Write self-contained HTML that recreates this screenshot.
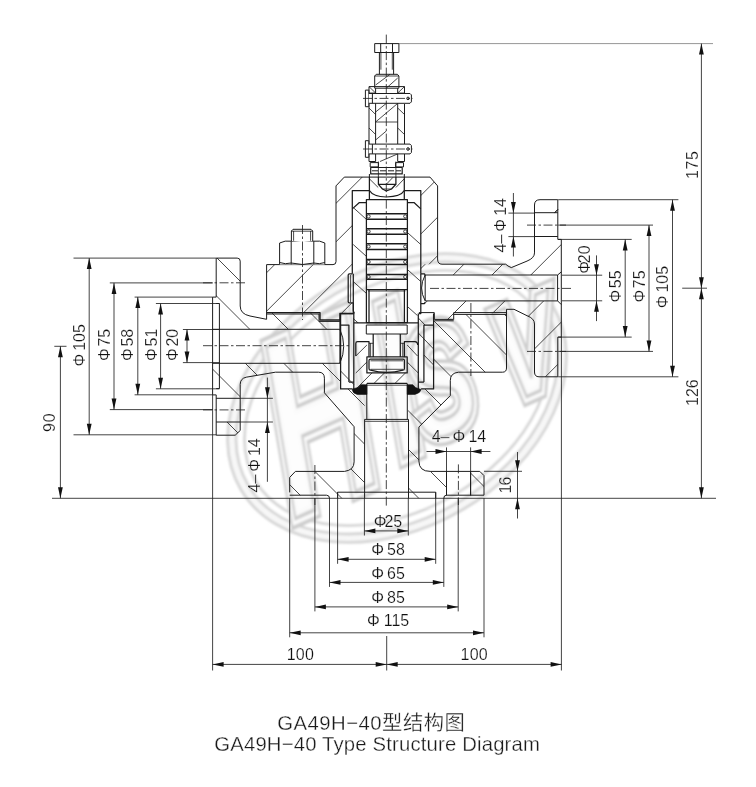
<!DOCTYPE html>
<html><head><meta charset="utf-8"><title>GA49H-40 Type Structure Diagram</title>
<style>
html,body{margin:0;padding:0;background:#fff;}
body{width:756px;height:787px;overflow:hidden;font-family:"Liberation Sans","Noto Sans CJK SC",sans-serif;}
svg{display:block;will-change:transform;filter:grayscale(1)}
.l{stroke:#1c1c1c;stroke-width:1.0;fill:none;stroke-linecap:butt;stroke-linejoin:round}
.lw{stroke:#1c1c1c;stroke-width:1.0;fill:#fff}
.li{stroke:#1c1c1c;stroke-width:1.25;fill:none;stroke-linejoin:round}
.d{stroke:#222;stroke-width:0.85;fill:none}
.g{stroke:#8a8a8a;stroke-width:0.9;fill:none}
.h{stroke:#1c1c1c;stroke-width:0.8;fill:none}
.c{stroke:#222;stroke-width:0.85;fill:none;stroke-dasharray:9 2.5 2.5 2.5}
.ah{fill:#111;stroke:none}
.blk{fill:#111;stroke:#111;stroke-width:0.6}
.t{font-family:"Liberation Sans","Noto Sans CJK SC",sans-serif;fill:#111;stroke:#fff;stroke-width:0.2}
.cap{font-family:"Liberation Sans","Noto Sans CJK SC",sans-serif;fill:#1a1a1a;stroke:#fff;stroke-width:0.3}
.wm{stroke:#d6d6d6;stroke-width:2.8;fill:none}
.wmt{font-family:"Liberation Sans",sans-serif;font-weight:bold;font-style:italic;fill:none;stroke:#d4d4d4;stroke-width:1.6}
</style></head>
<body>
<svg width="756" height="787" viewBox="0 0 756 787">
<rect x="0" y="0" width="756" height="787" fill="#fff"/>
<filter id="wb" x="-5%" y="-5%" width="110%" height="110%"><feGaussianBlur stdDeviation="0.9"/></filter>
<g id="watermark" filter="url(#wb)">
<g transform="translate(397 398) rotate(-30.3)">
<ellipse class="wm" cx="0" cy="0" rx="181" ry="129.5" style="fill:#f7f7f7"/>
<ellipse class="wm" cx="0" cy="0" rx="172.5" ry="121" style="fill:#fff"/>
<ellipse class="wm" cx="0" cy="0" rx="164" ry="112.5"/>
</g>
<g transform="translate(318 416) rotate(-24) skewX(-8) scale(0.6 1)">
<text class="wmt" vector-effect="non-scaling-stroke" font-size="245" text-anchor="middle" x="0" y="84.3" style="stroke:#cecece;stroke-width:16;fill:none">H</text>
<text class="wmt" vector-effect="non-scaling-stroke" font-size="245" text-anchor="middle" x="0" y="84.3" style="stroke:#fafafa;stroke-width:9.6;fill:#fdfdfd">H</text>
<text class="wmt" vector-effect="non-scaling-stroke" font-size="245" text-anchor="middle" x="0" y="84.3" style="stroke:#cecece;stroke-width:3;fill:none">H</text>
</g>
<g transform="translate(397 380) rotate(-24) skewX(-8) scale(0.6 1)">
<text class="wmt" vector-effect="non-scaling-stroke" font-size="215" text-anchor="middle" x="0" y="74.0" style="stroke:#cecece;stroke-width:16;fill:none">I</text>
<text class="wmt" vector-effect="non-scaling-stroke" font-size="215" text-anchor="middle" x="0" y="74.0" style="stroke:#fafafa;stroke-width:9.6;fill:#fdfdfd">I</text>
<text class="wmt" vector-effect="non-scaling-stroke" font-size="215" text-anchor="middle" x="0" y="74.0" style="stroke:#cecece;stroke-width:3;fill:none">I</text>
</g>
<g transform="translate(440 381) rotate(-24) skewX(-8) scale(0.66 1)">
<text class="wmt" vector-effect="non-scaling-stroke" font-size="150" text-anchor="middle" x="0" y="51.6" style="stroke:#cecece;stroke-width:16;fill:none">S</text>
<text class="wmt" vector-effect="non-scaling-stroke" font-size="150" text-anchor="middle" x="0" y="51.6" style="stroke:#fafafa;stroke-width:9.6;fill:#fdfdfd">S</text>
<text class="wmt" vector-effect="non-scaling-stroke" font-size="150" text-anchor="middle" x="0" y="51.6" style="stroke:#cecece;stroke-width:3;fill:none">S</text>
</g>
<g transform="translate(526 348) rotate(-24) skewX(-8) scale(0.72 1)">
<text class="wmt" vector-effect="non-scaling-stroke" font-size="130" text-anchor="middle" x="0" y="44.7" style="stroke:#cecece;stroke-width:16;fill:none">V</text>
<text class="wmt" vector-effect="non-scaling-stroke" font-size="130" text-anchor="middle" x="0" y="44.7" style="stroke:#fafafa;stroke-width:9.6;fill:#fdfdfd">V</text>
<text class="wmt" vector-effect="non-scaling-stroke" font-size="130" text-anchor="middle" x="0" y="44.7" style="stroke:#cecece;stroke-width:3;fill:none">V</text>
</g>
</g>
<g id="dims">
<line class="d" x1="73.5" y1="258.1" x2="216.2" y2="258.1" />
<line class="d" x1="73.5" y1="434.8" x2="216.2" y2="434.8" />
<line class="d" x1="89.2" y1="258.1" x2="89.2" y2="434.8" />
<polygon class="ah" points="89.2,258.1 86.8,269.1 91.6,269.1"/>
<polygon class="ah" points="89.2,434.8 86.8,423.8 91.6,423.8"/>
<text class="t" font-size="16" letter-spacing="0.00" transform="translate(79.4 345.2) rotate(-90)" x="-21.30" y="5.50">Φ<tspan dx="2.90">105</tspan></text>
<line class="d" x1="109.8" y1="282.9" x2="213.0" y2="282.9" />
<line class="d" x1="109.8" y1="409.6" x2="213.0" y2="409.6" />
<line class="d" x1="114.0" y1="282.9" x2="114.0" y2="409.6" />
<polygon class="ah" points="114.0,282.9 111.6,293.9 116.4,293.9"/>
<polygon class="ah" points="114.0,409.6 111.6,398.6 116.4,398.6"/>
<text class="t" font-size="16" letter-spacing="0.00" transform="translate(104.3 344.7) rotate(-90)" x="-16.20" y="5.50">Φ<tspan dx="1.60">75</tspan></text>
<line class="d" x1="134.6" y1="297.1" x2="212.6" y2="297.1" />
<line class="d" x1="134.6" y1="394.8" x2="212.6" y2="394.8" />
<line class="d" x1="137.8" y1="297.1" x2="137.8" y2="394.8" />
<polygon class="ah" points="137.8,297.1 135.4,308.1 140.2,308.1"/>
<polygon class="ah" points="137.8,394.8 135.4,383.8 140.2,383.8"/>
<text class="t" font-size="16" letter-spacing="0.00" transform="translate(127.3 344.7) rotate(-90)" x="-16.20" y="5.50">Φ<tspan dx="1.60">58</tspan></text>
<line class="d" x1="155.9" y1="303.5" x2="219.4" y2="303.5" />
<line class="d" x1="155.9" y1="388.8" x2="219.4" y2="388.8" />
<line class="d" x1="160.6" y1="303.5" x2="160.6" y2="388.8" />
<polygon class="ah" points="160.6,303.5 158.2,314.5 163.0,314.5"/>
<polygon class="ah" points="160.6,388.8 158.2,377.8 163.0,377.8"/>
<text class="t" font-size="16" letter-spacing="0.00" transform="translate(151.4 344.7) rotate(-90)" x="-16.20" y="5.50">Φ<tspan dx="1.70">51</tspan></text>
<line class="d" x1="182.9" y1="329.5" x2="219.4" y2="329.5" />
<line class="d" x1="182.9" y1="362.6" x2="219.4" y2="362.6" />
<line class="d" x1="187.0" y1="329.5" x2="187.0" y2="362.6" />
<polygon class="ah" points="187.0,329.5 184.6,340.5 189.4,340.5"/>
<polygon class="ah" points="187.0,362.6 184.6,351.6 189.4,351.6"/>
<text class="t" font-size="16" letter-spacing="0.00" transform="translate(172.8 344.7) rotate(-90)" x="-16.20" y="5.50">Φ<tspan dx="1.60">20</tspan></text>
<line class="d" x1="54.3" y1="346.3" x2="66.5" y2="346.3" />
<line class="d" x1="60.4" y1="346.3" x2="60.4" y2="498.3" />
<polygon class="ah" points="60.4,346.3 58.0,357.3 62.8,357.3"/>
<polygon class="ah" points="60.4,498.3 58.0,487.3 62.8,487.3"/>
<text class="t" font-size="16" letter-spacing="0.80" transform="translate(49.3 422.6) rotate(-90)" x="-9.40" y="5.50">90</text>
<line class="d" x1="52.0" y1="498.3" x2="716.0" y2="498.3" />
<line class="d" x1="240.2" y1="398.3" x2="272.9" y2="398.3" />
<line class="d" x1="240.2" y1="422.0" x2="272.9" y2="422.0" />
<line class="d" x1="267.4" y1="377.6" x2="267.4" y2="481.8" />
<polygon class="ah" points="267.4,398.3 265.0,387.3 269.8,387.3"/>
<polygon class="ah" points="267.4,422.0 265.0,433.0 269.8,433.0"/>
<text class="t" font-size="16" letter-spacing="0.00" transform="translate(254.6 465.4) rotate(-90)" x="-27.05" y="5.50">4–<tspan dx="2.90">Φ</tspan><tspan dx="2.90">14</tspan></text>
<line class="d" x1="558.2" y1="199.7" x2="678.4" y2="199.7" />
<line class="d" x1="558.2" y1="376.8" x2="678.4" y2="376.8" />
<line class="d" x1="672.5" y1="199.7" x2="672.5" y2="376.8" />
<polygon class="ah" points="672.5,199.7 670.1,210.7 674.9,210.7"/>
<polygon class="ah" points="672.5,376.8 670.1,365.8 674.9,365.8"/>
<text class="t" font-size="16" letter-spacing="0.00" transform="translate(662.2 286.9) rotate(-90)" x="-21.25" y="5.50">Φ<tspan dx="2.80">105</tspan></text>
<line class="d" x1="558.2" y1="225.1" x2="653.0" y2="225.1" />
<line class="d" x1="558.2" y1="351.4" x2="653.0" y2="351.4" />
<line class="d" x1="649.0" y1="225.1" x2="649.0" y2="351.4" />
<polygon class="ah" points="649.0,225.1 646.6,236.1 651.4,236.1"/>
<polygon class="ah" points="649.0,351.4 646.6,340.4 651.4,340.4"/>
<text class="t" font-size="16" letter-spacing="0.00" transform="translate(639.4 286.4) rotate(-90)" x="-16.20" y="5.50">Φ<tspan dx="1.60">75</tspan></text>
<line class="d" x1="558.2" y1="239.4" x2="631.7" y2="239.4" />
<line class="d" x1="558.2" y1="337.1" x2="631.7" y2="337.1" />
<line class="d" x1="625.2" y1="239.4" x2="625.2" y2="337.1" />
<polygon class="ah" points="625.2,239.4 622.8,250.4 627.6,250.4"/>
<polygon class="ah" points="625.2,337.1 622.8,326.1 627.6,326.1"/>
<text class="t" font-size="16" letter-spacing="0.00" transform="translate(615.9 286.4) rotate(-90)" x="-16.20" y="5.50">Φ<tspan dx="1.60">55</tspan></text>
<line class="d" x1="561.9" y1="275.2" x2="602.2" y2="275.2" />
<line class="d" x1="561.9" y1="300.8" x2="602.2" y2="300.8" />
<line class="d" x1="596.5" y1="255.4" x2="596.5" y2="321.1" />
<polygon class="ah" points="596.5,275.2 594.1,264.2 598.9,264.2"/>
<polygon class="ah" points="596.5,300.8 594.1,311.8 598.9,311.8"/>
<text class="t" font-size="16" letter-spacing="0.00" transform="translate(584.8 259.5) rotate(-90)" x="-14.35" y="5.50">Φ<tspan dx="-2.10">20</tspan></text>
<line class="d" x1="508.4" y1="213.1" x2="534.6" y2="213.1" />
<line class="d" x1="508.4" y1="236.6" x2="534.6" y2="236.6" />
<line class="d" x1="513.4" y1="193.0" x2="513.4" y2="256.5" />
<polygon class="ah" points="513.4,213.1 511.0,202.1 515.8,202.1"/>
<polygon class="ah" points="513.4,236.6 511.0,247.6 515.8,247.6"/>
<text class="t" font-size="16" letter-spacing="0.00" transform="translate(500.6 225.3) rotate(-90)" x="-27.20" y="5.50">4–<tspan dx="3.05">Φ</tspan><tspan dx="3.05">14</tspan></text>
<line class="g" x1="399.0" y1="43.6" x2="713.0" y2="43.6" />
<line class="d" x1="701.4" y1="43.6" x2="701.4" y2="498.3" />
<line class="d" x1="682.2" y1="288.2" x2="707.0" y2="288.2" />
<polygon class="ah" points="701.4,43.6 699.0,54.6 703.8,54.6"/>
<polygon class="ah" points="701.4,288.2 699.0,277.2 703.8,277.2"/>
<polygon class="ah" points="701.4,288.2 699.0,299.2 703.8,299.2"/>
<polygon class="ah" points="701.4,498.3 699.0,487.3 703.8,487.3"/>
<text class="t" font-size="16" letter-spacing="0.55" transform="translate(692.7 164.8) rotate(-90)" x="-14.15" y="5.50">175</text>
<text class="t" font-size="16" letter-spacing="0.00" transform="translate(692.7 392.4) rotate(-90)" x="-13.60" y="5.50">126</text>
<line class="d" x1="337.6" y1="492.2" x2="337.6" y2="563.8" />
<line class="d" x1="435.7" y1="492.2" x2="435.7" y2="563.8" />
<line class="d" x1="337.6" y1="559.3" x2="435.7" y2="559.3" />
<polygon class="ah" points="337.6,559.3 348.6,556.9 348.6,561.7"/>
<polygon class="ah" points="435.7,559.3 424.7,556.9 424.7,561.7"/>
<text class="t" font-size="16" letter-spacing="0.00" x="371.35" y="554.90">Φ<tspan dx="2.90">58</tspan></text>
<line class="d" x1="329.5" y1="498.0" x2="329.5" y2="586.9" />
<line class="d" x1="443.8" y1="498.0" x2="443.8" y2="586.9" />
<line class="d" x1="329.5" y1="582.4" x2="443.8" y2="582.4" />
<polygon class="ah" points="329.5,582.4 340.5,580.0 340.5,584.8"/>
<polygon class="ah" points="443.8,582.4 432.8,580.0 432.8,584.8"/>
<text class="t" font-size="16" letter-spacing="0.00" x="371.35" y="578.50">Φ<tspan dx="2.90">65</tspan></text>
<line class="d" x1="314.9" y1="498.0" x2="314.9" y2="611.4" />
<line class="d" x1="458.2" y1="498.0" x2="458.2" y2="611.4" />
<line class="d" x1="314.9" y1="606.9" x2="458.2" y2="606.9" />
<polygon class="ah" points="314.9,606.9 325.9,604.5 325.9,609.3"/>
<polygon class="ah" points="458.2,606.9 447.2,604.5 447.2,609.3"/>
<text class="t" font-size="16" letter-spacing="0.00" x="371.35" y="603.10">Φ<tspan dx="2.90">85</tspan></text>
<line class="d" x1="289.7" y1="498.0" x2="289.7" y2="637.3" />
<line class="d" x1="484.0" y1="498.0" x2="484.0" y2="637.3" />
<line class="d" x1="289.7" y1="632.8" x2="484.0" y2="632.8" />
<polygon class="ah" points="289.7,632.8 300.7,630.4 300.7,635.2"/>
<polygon class="ah" points="484.0,632.8 473.0,630.4 473.0,635.2"/>
<text class="t" font-size="16" letter-spacing="0.00" x="366.95" y="626.20">Φ<tspan dx="4.00">115</tspan></text>
<line class="d" x1="364.4" y1="498.0" x2="364.4" y2="535.5" />
<line class="d" x1="408.3" y1="498.0" x2="408.3" y2="535.5" />
<line class="d" x1="364.4" y1="530.9" x2="408.3" y2="530.9" />
<polygon class="ah" points="408.3,530.9 397.3,528.5 397.3,533.3"/>
<polygon class="ah" points="364.4,530.9 375.4,528.5 375.4,533.3"/>
<text class="t" font-size="16" letter-spacing="0.00" x="373.75" y="526.80">Φ<tspan dx="-2.10">25</tspan></text>
<line class="d" x1="212.6" y1="394.8" x2="212.6" y2="670.5" />
<line class="d" x1="561.4" y1="337.0" x2="561.4" y2="670.5" />
<line class="d" x1="386.7" y1="636.0" x2="386.7" y2="670.5" />
<line class="d" x1="212.6" y1="664.4" x2="561.6" y2="664.4" />
<polygon class="ah" points="212.6,664.4 223.6,662.0 223.6,666.8"/>
<polygon class="ah" points="386.7,664.4 375.7,662.0 375.7,666.8"/>
<polygon class="ah" points="386.7,664.4 397.7,662.0 397.7,666.8"/>
<polygon class="ah" points="561.6,664.4 550.6,662.0 550.6,666.8"/>
<text class="t" font-size="16" letter-spacing="0.30" x="286.65" y="659.90">100</text>
<text class="t" font-size="16" letter-spacing="0.30" x="460.45" y="659.90">100</text>
<line class="d" x1="446.5" y1="447.4" x2="446.5" y2="495.6" />
<line class="d" x1="470.6" y1="447.4" x2="470.6" y2="495.6" />
<line class="d" x1="426.5" y1="451.5" x2="490.4" y2="451.5" />
<polygon class="ah" points="446.5,451.5 435.5,449.1 435.5,453.9"/>
<polygon class="ah" points="470.6,451.5 481.6,449.1 481.6,453.9"/>
<text class="t" font-size="16" letter-spacing="0.00" x="431.65" y="442.40">4–<tspan dx="3.10">Φ</tspan><tspan dx="3.10">14</tspan></text>
<line class="d" x1="484.0" y1="471.3" x2="522.0" y2="471.3" />
<line class="d" x1="517.5" y1="452.0" x2="517.5" y2="518.5" />
<polygon class="ah" points="517.5,471.3 515.1,460.3 519.9,460.3"/>
<polygon class="ah" points="517.5,498.3 515.1,509.3 519.9,509.3"/>
<text class="t" font-size="16" letter-spacing="-0.70" transform="translate(505.8 484.8) rotate(-90)" x="-8.80" y="5.50">16</text>
</g>
<text class="cap" font-size="20.3" text-anchor="middle" textLength="187.5" lengthAdjust="spacing" x="371" y="730">GA49H−40型结构图</text>
<text class="cap" font-size="20.3" text-anchor="middle" textLength="325.6" lengthAdjust="spacing" x="377.1" y="751.4">GA49H−40 Type Structure Diagram</text>
<g id="valve">
<clipPath id="cA1"><path d="M216.2 258.1 L237.2 258.1 Q240.2 258.1 240.2 261.1 L240.2 306 Q240.2 314 250 316 L266.6 319.3 L266.6 313 L320 313 L320 320.5 L339.9 320.5 L339.9 329.3 L212.6 329.3 L212.6 297.1 L216.2 297.1 Z" clip-rule="evenodd"/></clipPath>
<g clip-path="url(#cA1)">
<line class="h" x1="132.0" y1="250.0" x2="217.0" y2="335.0" />
<line class="h" x1="170.5" y1="250.0" x2="255.5" y2="335.0" />
<line class="h" x1="209.0" y1="250.0" x2="294.0" y2="335.0" />
<line class="h" x1="247.5" y1="250.0" x2="332.5" y2="335.0" />
<line class="h" x1="286.0" y1="250.0" x2="371.0" y2="335.0" />
<line class="h" x1="324.5" y1="250.0" x2="409.5" y2="335.0" />
</g>
<clipPath id="cA2"><path d="M212.6 363.3 L339.9 363.3 L340.6 388.9 L352.4 388.9 L357.2 394.4 L364.6 394.4 L364.6 498.3 L329.7 498.3 L329.7 495.2 L289.7 495.2 L289.7 475.6 L293.7 471.4 L344.6 471.4 Q354.1 470 354.1 461.9 L354.1 426.7 L324.4 392.8 L324.4 378.2 Q324.4 372.2 318.6 372.2 L275.4 372.2 L246.2 377.2 Q240.2 378.5 240.2 384.5 L240.2 398.3 L216.2 398.3 L216.2 394.9 L212.6 394.9 Z M216.2 422.0 L240.2 422.0 L240.2 430.5 L235.2 435.2 L216.2 435.2 Z" clip-rule="evenodd"/></clipPath>
<g clip-path="url(#cA2)">
<line class="h" x1="83.0" y1="355.0" x2="228.0" y2="500.0" />
<line class="h" x1="121.5" y1="355.0" x2="266.5" y2="500.0" />
<line class="h" x1="160.0" y1="355.0" x2="305.0" y2="500.0" />
<line class="h" x1="198.5" y1="355.0" x2="343.5" y2="500.0" />
<line class="h" x1="237.0" y1="355.0" x2="382.0" y2="500.0" />
<line class="h" x1="275.5" y1="355.0" x2="420.5" y2="500.0" />
<line class="h" x1="314.0" y1="355.0" x2="459.0" y2="500.0" />
<line class="h" x1="352.5" y1="355.0" x2="497.5" y2="500.0" />
</g>
<clipPath id="cB1"><path d="M440 264.2 L505.7 264.2 L508 266 L511.3 267.6 L527 261.1 Q534.5 258 534.5 252.9 L534.5 236.5 L557.8 236.5 L557.8 239.4 L561.3 239.4 L561.3 271.9 L557.6 275 L425.2 275 L420.8 273 L420.8 264.2 Z M534.5 212.7 L534.5 204 Q534.5 199.7 538.5 199.7 L557.8 199.7 L557.8 212.7 Z" clip-rule="evenodd"/></clipPath>
<g clip-path="url(#cB1)">
<line class="h" x1="416.8" y1="195.0" x2="331.8" y2="280.0" />
<line class="h" x1="455.6" y1="195.0" x2="370.6" y2="280.0" />
<line class="h" x1="494.4" y1="195.0" x2="409.4" y2="280.0" />
<line class="h" x1="533.2" y1="195.0" x2="448.2" y2="280.0" />
<line class="h" x1="572.0" y1="195.0" x2="487.0" y2="280.0" />
<line class="h" x1="610.8" y1="195.0" x2="525.8" y2="280.0" />
<line class="h" x1="649.6" y1="195.0" x2="564.6" y2="280.0" />
</g>
<clipPath id="cB2"><path d="M425.2 300.9 L557.6 300.9 L561.3 304.6 L561.3 337.1 L557.8 337.1 L557.8 376.8 L539 376.8 Q534.5 376.8 534.5 372 L534.5 324 Q534.5 318.5 527 315.7 L514 309.3 L506.5 309.3 L506.5 313.2 L453.8 313.2 L453.8 320 L434.2 320 L434.2 313.2 L425.2 313.2 Z" clip-rule="evenodd"/></clipPath>
<g clip-path="url(#cB2)">
<line class="h" x1="433.2" y1="295.0" x2="348.2" y2="380.0" />
<line class="h" x1="472.0" y1="295.0" x2="387.0" y2="380.0" />
<line class="h" x1="510.8" y1="295.0" x2="425.8" y2="380.0" />
<line class="h" x1="549.6" y1="295.0" x2="464.6" y2="380.0" />
<line class="h" x1="588.4" y1="295.0" x2="503.4" y2="380.0" />
<line class="h" x1="627.2" y1="295.0" x2="542.2" y2="380.0" />
</g>
<clipPath id="cB3"><path d="M433.6 320.6 L453.8 320.6 L453.8 314.4 L506.5 314.4 L506.5 368 Q506.5 372.2 502.5 372.2 L458.5 372.2 Q450.3 373 450.3 380.5 L450.3 395.6 L418.9 427 L418.9 461 Q418.9 471.4 430.3 471.4 L479.8 471.4 L484 475.6 L484 495.2 L470.6 495.2 L470.6 471.4 L446.5 471.4 L446.5 495.2 L444 495.2 L444 498.3 L408.1 498.3 L408.1 394.4 L414.9 394.4 L421.1 389 L433.6 388.9 Z" clip-rule="evenodd"/></clipPath>
<g clip-path="url(#cB3)">
<line class="h" x1="225.5" y1="305.0" x2="420.5" y2="500.0" />
<line class="h" x1="264.0" y1="305.0" x2="459.0" y2="500.0" />
<line class="h" x1="302.5" y1="305.0" x2="497.5" y2="500.0" />
<line class="h" x1="341.0" y1="305.0" x2="536.0" y2="500.0" />
<line class="h" x1="379.5" y1="305.0" x2="574.5" y2="500.0" />
<line class="h" x1="418.0" y1="305.0" x2="613.0" y2="500.0" />
<line class="h" x1="456.5" y1="305.0" x2="651.5" y2="500.0" />
<line class="h" x1="495.0" y1="305.0" x2="690.0" y2="500.0" />
<line class="h" x1="533.5" y1="305.0" x2="728.5" y2="500.0" />
</g>
<clipPath id="cBN"><path d="M344.3 177.1 L369.4 177.1 L369.4 190.5 L352.3 190.5 L352.3 273.8 L348.2 273.8 L348.2 302.9 L353 302.9 L353 313 L320 313 L266.6 313 L266.6 264.6 L333 264.6 Q336 264.6 336 261.6 L336 185.9 Z M404.3 177.1 L430 177.1 L437.6 185.9 L437.6 259 Q437.6 264.2 442 264.2 L420.8 264.2 L420.8 190.5 L404.3 190.5 Z" clip-rule="evenodd"/></clipPath>
<g clip-path="url(#cBN)">
<line class="h" x1="292.3" y1="170.0" x2="148.3" y2="314.0" />
<line class="h" x1="330.8" y1="170.0" x2="186.8" y2="314.0" />
<line class="h" x1="369.3" y1="170.0" x2="225.3" y2="314.0" />
<line class="h" x1="407.8" y1="170.0" x2="263.8" y2="314.0" />
<line class="h" x1="446.3" y1="170.0" x2="302.3" y2="314.0" />
<line class="h" x1="484.8" y1="170.0" x2="340.8" y2="314.0" />
<line class="h" x1="523.3" y1="170.0" x2="379.3" y2="314.0" />
<line class="h" x1="561.8" y1="170.0" x2="417.8" y2="314.0" />
</g>
<clipPath id="cSL"><path d="M359.4 202.5 L366.4 202.5 L366.4 323 L353 323 L353 208.9 Z M407.4 202.5 L414 202.5 L420.8 208.9 L420.8 273.8 L420.8 313 L407.4 323 Z"/></clipPath><g clip-path="url(#cSL)">
<line class="h" x1="353.2" y1="133.5" x2="373.2" y2="151.5" />
<line class="h" x1="407.4" y1="121.5" x2="427.4" y2="139.5" />
<line class="h" x1="353.2" y1="170.5" x2="373.2" y2="188.5" />
<line class="h" x1="407.4" y1="158.5" x2="427.4" y2="176.5" />
<line class="h" x1="353.2" y1="207.5" x2="373.2" y2="225.5" />
<line class="h" x1="407.4" y1="195.5" x2="427.4" y2="213.5" />
<line class="h" x1="353.2" y1="244.5" x2="373.2" y2="262.5" />
<line class="h" x1="407.4" y1="232.5" x2="427.4" y2="250.5" />
<line class="h" x1="353.2" y1="281.5" x2="373.2" y2="299.5" />
<line class="h" x1="407.4" y1="269.5" x2="427.4" y2="287.5" />
<line class="h" x1="353.2" y1="318.5" x2="373.2" y2="336.5" />
<line class="h" x1="407.4" y1="306.5" x2="427.4" y2="324.5" />
<line class="h" x1="353.2" y1="355.5" x2="373.2" y2="373.5" />
<line class="h" x1="407.4" y1="343.5" x2="427.4" y2="361.5" />
</g>
<path class="l" d="M216.2 258.1 L237.2 258.1 Q240.2 258.1 240.2 261.1 L240.2 306 Q240.2 314 250 316 L266.6 319.3" />
<path class="l" d="M216.2 258.1 L216.2 297.1 M212.6 297.1 L212.6 394.9 M216.2 394.9 L216.2 435.2 L235.2 435.2 L240.2 430.5 L240.2 384.5 Q240.2 378.5 246.2 377.2 L275.4 372.2 L318.6 372.2 Q324.4 372.2 324.4 378.2 L324.4 392.8 L354.1 426.7 L354.1 461.9 Q354.1 470 344.6 471.4 L295.4 471.4 L289.7 477.4 L289.7 492.4" />
<path class="l" d="M212.6 297.1 L216.2 297.1 M212.6 394.9 L216.2 394.9" />
<path class="l" d="M219.4 303.5 L219.4 388.6" />
<path class="l" d="M216.2 303.5 L219.4 303.5 M216.2 388.6 L219.4 388.6" />
<path class="l" d="M212.6 329.3 L339.9 329.3 Q347.5 346.3 339.9 363.3 L212.6 363.3" />
<line class="l" x1="339.9" y1="329.3" x2="339.9" y2="363.3" />
<line class="l" x1="216.2" y1="398.3" x2="240.2" y2="398.3" />
<line class="l" x1="216.2" y1="422.0" x2="240.2" y2="422.0" />
<path class="l" d="M266.6 319.3 L266.6 264.6 L333 264.6 Q336 264.6 336 261.6 L336 185.9 L344.3 177.1 L430 177.1 L437.6 185.9 L437.6 259 Q437.6 264.2 442 264.2 L505.7 264.2 L508 266 L511.3 267.6 L527 261.1 Q534.5 258 534.5 252.9 L534.5 205 Q534.5 199.7 540 199.7 L557.8 199.7" />
<path class="l" d="M266.6 312.6 L320 312.6 L320 320 L339.9 320 L339.9 313.5 L353.8 313.5" style="stroke-width:1.4"/>
<path class="l" d="M266.6 314 L319 314 L319 321.4 L339.9 321.4" />
<line class="l" x1="339.9" y1="320.0" x2="339.9" y2="329.3" />
<path class="lw" d="M279.6 264.4 L279.6 243 Q285 240.2 291.2 241.2 Q302.5 239.6 313.8 241.2 Q320 240.2 324.8 243 L324.8 264.4" />
<line class="l" x1="291.2" y1="241.2" x2="291.2" y2="264.4" />
<line class="l" x1="313.8" y1="241.2" x2="313.8" y2="264.4" />
<path class="l" d="M279.6 262.5 Q285.4 264.6 291.2 263 Q302.5 266 313.8 263 Q319.3 264.6 324.8 262.5" />
<path class="lw" d="M291.4 241 L291.4 231 L293 229.3 L311 229.3 L312.7 231 L312.7 241" />
<line class="h" x1="293.6" y1="231.0" x2="293.6" y2="240.8" />
<line class="h" x1="310.6" y1="231.0" x2="310.6" y2="240.8" />
<line class="h" x1="291.4" y1="231.2" x2="312.7" y2="231.2" />
<line class="c" x1="302.5" y1="225.0" x2="302.5" y2="320.0" stroke-dasharray="22 3 4 3"/>
<path class="l" d="M557.8 199.7 L557.8 239.4 L561.3 239.4 L561.3 337.1 L557.8 337.1 L557.8 376.8 L539 376.8 Q534.5 376.8 534.5 372 L534.5 324 Q534.5 318.5 527 315.7 L514 309.3 L506.5 309.3 L506.5 368 Q506.5 372.2 502.5 372.2 L458.5 372.2 Q450.3 373 450.3 380.5 L450.3 395.6 L418.9 427 L418.9 461 Q418.9 471.4 430.3 471.4 L479.8 471.4 L484 475.6 L484 495.2" />
<line class="l" x1="534.5" y1="212.7" x2="557.8" y2="212.7" />
<line class="l" x1="534.5" y1="236.5" x2="557.8" y2="236.5" />
<line class="h" x1="554.7" y1="213.1" x2="558.2" y2="209.4" />
<path class="l" d="M561.3 271.9 L557.6 275 L425.2 275 Q418 288 425.2 300.9 L557.6 300.9 L561.3 304.6" />
<line class="l" x1="425.2" y1="275.0" x2="425.2" y2="300.9" />
<line class="l" x1="557.6" y1="275.0" x2="557.6" y2="300.9" />
<path class="l" d="M418.9 312.6 L434.3 312.6 L434.3 319.4 L453.7 319.4 L453.7 312.6 L506.5 312.6" />
<path class="l" d="M434.3 320.8 L453.7 320.8 M453.7 314.4 L506.5 314.4" />
<line class="c" x1="470.9" y1="303.0" x2="470.9" y2="376.0" stroke-dasharray="30 3 5 3"/>
<path class="l" d="M289.7 495.2 L326.5 495.2 Q329.5 495.2 329.5 498.3 M337.6 498.3 L337.6 492.2 L435.7 492.2 L435.7 498.3 M443.8 498.3 Q443.8 495.2 446.5 495.2 L484 495.2" />
<line class="l" x1="446.5" y1="471.4" x2="446.5" y2="495.2" />
<line class="l" x1="470.6" y1="471.4" x2="470.6" y2="495.2" />
<line class="l" x1="364.6" y1="419.4" x2="364.6" y2="498.3" />
<line class="l" x1="408.5" y1="419.4" x2="408.5" y2="498.3" />
<line class="l" x1="366.8" y1="383.5" x2="366.8" y2="419.4" />
<line class="l" x1="407.3" y1="383.5" x2="407.3" y2="419.4" />
<line class="l" x1="364.6" y1="419.4" x2="408.5" y2="419.4" />
<line class="h" x1="365.0" y1="421.3" x2="408.2" y2="421.3" />
<line class="h" x1="366.8" y1="385.2" x2="407.3" y2="385.2" />
<line class="c" x1="203.0" y1="282.8" x2="246.0" y2="282.8" stroke-dasharray="17 3 4 3"/>
<line class="c" x1="203.0" y1="409.9" x2="246.0" y2="409.9" stroke-dasharray="17 3 4 3"/>
<line class="c" x1="527.0" y1="225.1" x2="566.0" y2="225.1" stroke-dasharray="13 3 4 3"/>
<line class="c" x1="527.0" y1="351.4" x2="566.0" y2="351.4" stroke-dasharray="13 3 4 3"/>
<line class="c" x1="203.0" y1="345.7" x2="350.0" y2="345.7" stroke-dasharray="50 5 9 5"/>
<line class="c" x1="430.0" y1="288.4" x2="571.0" y2="288.4" stroke-dasharray="60 5 9 5"/>
<line class="c" x1="314.9" y1="465.0" x2="314.9" y2="505.0" stroke-dasharray="13 3 4 3"/>
<line class="c" x1="458.4" y1="464.4" x2="458.4" y2="505.0" stroke-dasharray="13 3 4 3"/>
</g>
<g id="internals">
<path class="li" d="M369.4 177.1 L369.4 199.7 M404.3 177.1 L404.3 199.7" />
<path class="li" d="M369.4 190.5 L352.3 190.5 L352.3 273.8 M404.3 190.5 L420.8 190.5 L420.8 273.8" />
<path class="li" d="M352.3 208.9 L359.4 202.5 L366.4 202.5 M407.4 202.5 L414 202.5 L420.8 208.9" />
<path class="li" d="M366.4 323 L366.4 199.7 L407.4 199.7 L407.4 323" />
<path class="li" d="M378.4 177.1 L378.4 184.3 L395.9 184.3 L395.9 177.1" />
<path class="li" d="M378.4 184.3 L382.5 189 L386.3 191 L391.5 189 L395.9 184.3" />
<path class="h" d="M382.5 189 L391.5 189" />
<path class="li" d="M369.4 190.5 Q373 196.5 386.3 197 Q401 196.5 404.3 190.5" />
<line class="h" x1="369.6" y1="179.0" x2="378.2" y2="187.5" />
<line class="h" x1="404.0" y1="179.0" x2="395.9" y2="187.5" />
<line class="h" x1="386.3" y1="184.3" x2="393.0" y2="177.3" />
<line class="li" x1="366.4" y1="213.7" x2="407.4" y2="213.7" style="stroke-width:1.5"/>
<line class="li" x1="366.4" y1="219.2" x2="407.4" y2="219.2" style="stroke-width:1.5"/>
<circle class="h" cx="368.6" cy="216.4" r="1.6"/><circle class="h" cx="405.2" cy="216.4" r="1.6"/>
<line class="li" x1="366.4" y1="228.7" x2="407.4" y2="228.7" style="stroke-width:1.5"/>
<line class="li" x1="366.4" y1="234.3" x2="407.4" y2="234.3" style="stroke-width:1.5"/>
<circle class="h" cx="368.6" cy="231.5" r="1.6"/><circle class="h" cx="405.2" cy="231.5" r="1.6"/>
<line class="li" x1="366.4" y1="243.8" x2="407.4" y2="243.8" style="stroke-width:1.5"/>
<line class="li" x1="366.4" y1="249.4" x2="407.4" y2="249.4" style="stroke-width:1.5"/>
<circle class="h" cx="368.6" cy="246.6" r="1.6"/><circle class="h" cx="405.2" cy="246.6" r="1.6"/>
<line class="li" x1="366.4" y1="259.4" x2="407.4" y2="259.4" style="stroke-width:1.5"/>
<line class="li" x1="366.4" y1="264.4" x2="407.4" y2="264.4" style="stroke-width:1.5"/>
<circle class="h" cx="368.6" cy="261.9" r="1.6"/><circle class="h" cx="405.2" cy="261.9" r="1.6"/>
<line class="li" x1="366.4" y1="274.4" x2="407.4" y2="274.4" style="stroke-width:1.5"/>
<line class="li" x1="366.4" y1="279.3" x2="407.4" y2="279.3" style="stroke-width:1.5"/>
<circle class="h" cx="368.6" cy="276.9" r="1.6"/><circle class="h" cx="405.2" cy="276.9" r="1.6"/>
<path class="li" d="M366.4 289.7 L407.4 289.7 M369 289.7 L369 322.4 M404.4 289.7 L404.4 322.4 M366.4 322.6 L407.4 322.6" />
<line class="h" x1="368.0" y1="291.0" x2="405.4" y2="291.0" />
<path class="li" d="M352.3 273.8 L349.4 273.8 Q348.2 273.8 348.2 275 L348.2 301.7 Q348.2 302.9 349.4 302.9 L353.3 302.9" />
<line class="li" x1="353.3" y1="273.8" x2="353.3" y2="313.5" />
<line class="h" x1="350.6" y1="275.0" x2="350.6" y2="302.0" />
<path class="li" d="M353.3 302.9 L353.3 311 L354.5 313.5" />
<path class="li" d="M420.8 273.8 L424.5 273.8 L425.2 275.5 M425.2 301.9 L424.5 303.6 L420.8 303.6 L420.8 313.5 L418.9 313.5" />
<line class="li" x1="420.8" y1="273.8" x2="420.8" y2="303.6" />
<path class="li" d="M340.6 313.5 L353.8 313.5 M340.6 313.5 L340.6 388.9 L352.4 388.9" />
<path class="li" d="M433.6 313.5 L433.6 388.9 L421.1 388.9" />
<path class="li" d="M340.6 325 L348.9 325 L348.9 382 M423.9 382 L423.9 325 L433.6 325" />
<path class="li" d="M353.8 313.5 L353.8 388.9 M418.3 313.5 L418.3 388.9" />
<line class="li" x1="353.8" y1="322.9" x2="418.3" y2="322.9" />
<path class="li" d="M348.9 382 L353.8 382 M418.3 382 L423.9 382" />
<path class="lw" d="M366.3 325 L407.2 325 L407.2 334 L366.3 334 Z" />
<path class="li" d="M373.2 334 L373.2 356.9 M400.3 334 L400.3 356.9" />
<path class="li" d="M355.8 356 L355.8 343.5 Q355.8 341.7 357.6 341.7 L369 341.7 L369 356.9 M404.4 356.9 L404.4 341.7 L415 341.7 Q417.5 341.7 417.8 345" />
<line class="h" x1="370.6" y1="343.0" x2="370.6" y2="356.9" />
<line class="h" x1="402.8" y1="343.0" x2="402.8" y2="356.9" />
<line class="h" x1="369.0" y1="343.3" x2="373.2" y2="343.3" />
<line class="h" x1="400.3" y1="343.3" x2="404.4" y2="343.3" />
<path class="li" d="M366.9 356.9 L407.2 356.9 L407.2 372.9 L366.9 372.9 Z" />
<path class="li" d="M370.5 359 L403 359 Q404.4 359 404.4 360.5 L404.4 368.5 Q404.4 370.1 403 370.1 Q386.5 374.5 370.5 370.1 Q369 370.1 369 368.5 L369 360.5 Q369 359 370.5 359 Z" />
<line class="h" x1="370.5" y1="360.8" x2="403.0" y2="360.8" />
<line class="h" x1="370.5" y1="369.3" x2="403.0" y2="369.3" />
<line class="li" x1="366.9" y1="383.4" x2="407.2" y2="383.4" />
<path class="blk" d="M352.4 388.9 L358 387.5 L360.7 384.7 L366.9 384.7 L366.9 394.4 L357.2 394.4 Q353 393.5 352.4 390.3 Z"/>
<path class="blk" d="M407.2 384.7 L412.8 384.7 L415.5 387.5 L421.1 389.6 Q420.5 393 414.9 394.4 L407.2 394.4 Z"/>
<line class="h" x1="340.6" y1="371.0" x2="353.8" y2="384.5" />
<line class="h" x1="355.8" y1="356.0" x2="366.9" y2="345.0" />
<line class="h" x1="355.8" y1="373.0" x2="366.9" y2="362.0" />
<line class="h" x1="357.0" y1="388.0" x2="372.0" y2="372.9" />
<line class="h" x1="418.3" y1="333.0" x2="433.6" y2="349.0" />
<line class="h" x1="407.2" y1="345.0" x2="417.5" y2="356.0" />
<line class="h" x1="407.2" y1="362.0" x2="418.3" y2="373.0" />
<line class="h" x1="395.0" y1="383.4" x2="405.5" y2="372.9" />
<line class="h" x1="374.0" y1="383.4" x2="384.5" y2="372.9" />
<line class="h" x1="423.9" y1="355.0" x2="433.6" y2="365.0" />
<line class="h" x1="418.3" y1="318.0" x2="425.0" y2="325.0" />
<path class="lw" d="M374.7 43.6 L398.9 43.6 L398.9 52.5 L374.7 52.5 Z" />
<line class="l" x1="380.7" y1="43.6" x2="380.7" y2="52.5" />
<line class="l" x1="392.5" y1="43.6" x2="392.5" y2="52.5" />
<path class="l" d="M379.4 52.5 L379.4 74.3 M393.6 52.5 L393.6 74.3" />
<path class="h" d="M380.9 52.5 L380.9 69.7 M392.3 52.5 L392.3 69.7" />
<path class="l" d="M374.7 88.2 L374.7 76 L376.2 74.3 L397.4 74.3 L398.9 76 L398.9 88.2" />
<line class="h" x1="374.7" y1="76.0" x2="398.9" y2="76.0" />
<path class="l" d="M369 93 L369 86.6 L404.5 86.6 L404.5 93 M369 104 L369 144 M404.5 104 L404.5 144 M369 154 L369 161.5 L375.6 161.5 M404.5 154 L404.5 161.5 L397.7 161.5" />
<path class="l" d="M375.6 88.2 L375.6 161.5 M397.7 88.2 L397.7 161.5" />
<line class="l" x1="374.7" y1="88.2" x2="398.9" y2="88.2" />
<path class="h" d="M369 86.6 L375.6 93 M404.5 86.6 L397.7 93" />
<line class="h" x1="369.0" y1="93.0" x2="375.6" y2="93.0" />
<line class="h" x1="397.7" y1="93.0" x2="404.5" y2="93.0" />
<path class="lw" d="M365.4 90.1 L368.8 90.1 L368.8 106.7 L365.4 106.7 Z" />
<path class="lw" d="M368.8 93.5 L410 93.5 L411.4 94.9 L411.4 101.9 L410 103.3 L368.8 103.3" />
<line class="l" x1="372.4" y1="93.5" x2="372.4" y2="103.3" />
<line class="c" x1="363.0" y1="98.4" x2="413.0" y2="98.4" />
<circle class="l" cx="408" cy="98.4" r="1.3"/>
<path class="lw" d="M365.4 140.7 L368.8 140.7 L368.8 157.3 L365.4 157.3 Z" />
<path class="lw" d="M368.8 144.1 L410 144.1 L411.4 145.5 L411.4 152.5 L410 153.9 L368.8 153.9" />
<line class="l" x1="372.4" y1="144.1" x2="372.4" y2="153.9" />
<line class="c" x1="363.0" y1="149.0" x2="413.0" y2="149.0" />
<circle class="l" cx="408" cy="149.0" r="1.3"/>
<line class="h" x1="369.0" y1="108.0" x2="375.6" y2="114.5" />
<line class="h" x1="369.0" y1="128.0" x2="375.6" y2="134.5" />
<line class="h" x1="397.7" y1="108.0" x2="404.5" y2="114.5" />
<line class="h" x1="397.7" y1="128.0" x2="404.5" y2="134.5" />
<line class="h" x1="375.6" y1="122.0" x2="397.7" y2="103.4" />
<line class="h" x1="375.6" y1="140.0" x2="386.3" y2="131.0" />
<line class="h" x1="375.6" y1="85.0" x2="390.0" y2="74.3" />
<line class="h" x1="386.3" y1="88.2" x2="397.7" y2="78.0" />
<line class="h" x1="380.0" y1="161.5" x2="397.7" y2="153.9" />
<line class="h" x1="375.6" y1="112.0" x2="386.3" y2="103.4" />
<line class="h" x1="375.6" y1="122.0" x2="397.7" y2="122.0" />
<path class="l" d="M370.2 162.6 L378.4 162.6 L378.4 166.9 L370.2 166.9 Z M395.6 162.6 L403.5 162.6 L403.5 166.9 L395.6 166.9 Z" />
<path class="l" d="M370.7 167.5 L402.2 167.5 L402.2 173.9 L370.7 173.9 Z" style="stroke-width:1.2"/>
<line class="l" x1="372.0" y1="170.8" x2="401.0" y2="170.8" stroke-dasharray="6 2"/>
<path class="l" d="M369.4 174 L369.4 177.1 M404.3 174 L404.3 177.1" />
<path class="h" d="M378.4 161.5 L378.4 177.1 M395.9 161.5 L395.9 177.1" />
<line class="c" x1="386.3" y1="34.6" x2="386.3" y2="507.0" stroke-dasharray="28 3 5 3"/>
</g>
</svg>
</body></html>
